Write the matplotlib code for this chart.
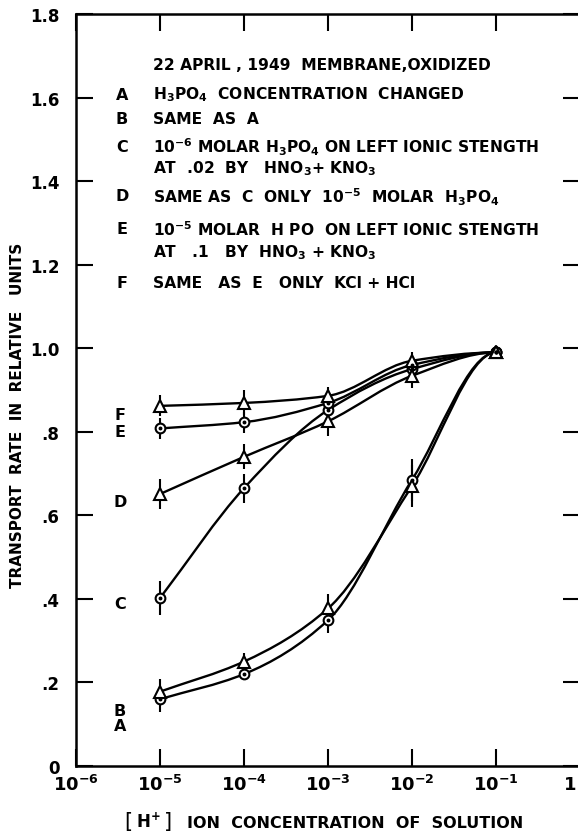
import numpy as np
import matplotlib
matplotlib.use('Agg')
import matplotlib.pyplot as plt
from matplotlib.path import Path
from matplotlib.patches import PathPatch

plt.rcParams['font.family'] = ['DejaVu Sans']
plt.rcParams['font.weight'] = 'bold'
plt.rcParams['mathtext.fontset'] = 'dejavusans'
plt.rcParams['mathtext.default'] = 'bf'

# H+ concentrations where rates were measured
conc = [1e-5, 1e-4, 1e-3, 1e-2, 1e-1]

# transport rate (relative units)
rate_A = [0.160, 0.220, 0.349, 0.685, 0.990]
rate_B = [0.178, 0.250, 0.377, 0.670, 0.990]
rate_C = [0.402, 0.665, 0.852, 0.950, 0.990]
rate_D = [0.651, 0.740, 0.825, 0.934, 0.990]
rate_E = [0.808, 0.823, 0.869, 0.960, 0.990]
rate_F = [0.862, 0.869, 0.886, 0.970, 0.990]

# half-length of the vertical bars
err_A = [0.030, 0.015, 0.030, 0.050, 0.010]
err_B = [0.030, 0.020, 0.035, 0.050, 0.010]
err_C = [0.040, 0.035, 0.020, 0.020, 0.010]
err_D = [0.035, 0.030, 0.035, 0.030, 0.010]
err_E = [0.025, 0.025, 0.020, 0.020, 0.010]
err_F = [0.025, 0.030, 0.020, 0.020, 0.010]

curve_names = ['A', 'B', 'C', 'D', 'E', 'F']
curve_markers = ['o', '^', 'o', '^', 'o', '^']

xtick_vals = [1e-6, 1e-5, 1e-4, 1e-3, 1e-2, 1e-1, 1]
xtick_labels = ['$10^{-6}$', '$10^{-5}$', '$10^{-4}$', '$10^{-3}$',
                '$10^{-2}$', '$10^{-1}$', '']
ytick_vals = [0, 0.2, 0.4, 0.6, 0.8, 1.0, 1.2, 1.4, 1.6, 1.8]
ytick_labels = ['0', '.2', '.4', '.6', '.8', '1.0', '1.2', '1.4', '1.6', '1.8']

legend_lines = [
    ('', '22 APRIL , 1949  MEMBRANE,OXIDIZED'),
    ('A', 'H$_3$PO$_4$  CONCENTRATION  CHANGED'),
    ('B', 'SAME  AS  A'),
    ('C', '10$^{-6}$ MOLAR H$_3$PO$_4$ ON LEFT IONIC STENGTH'),
    ('', 'AT  .02  BY   HNO$_3$+ KNO$_3$'),
    ('D', 'SAME AS  C  ONLY  10$^{-5}$  MOLAR  H$_3$PO$_4$'),
    ('E', '10$^{-5}$ MOLAR  H PO  ON LEFT IONIC STENGTH'),
    ('', 'AT   .1   BY  HNO$_3$ + KNO$_3$'),
    ('F', 'SAME   AS  E   ONLY  KCl + HCl'),
]


def smooth_curve(ax, xs, ys):
    # hermite curve through the points (in log x), drawn as bezier segments
    lx = np.log10(xs)
    y = np.asarray(ys, dtype=float)
    h = np.diff(lx)
    d = np.diff(y) / h
    m = np.zeros_like(y)
    for i in range(1, len(y) - 1):
        if d[i - 1] * d[i] > 0:
            m[i] = 2.0 / (1.0 / d[i - 1] + 1.0 / d[i])
    m[0] = d[0]
    m[-1] = 0.0
    verts = [(xs[0], y[0])]
    codes = [Path.MOVETO]
    for i in range(len(y) - 1):
        c1 = (10 ** (lx[i] + h[i] / 3), y[i] + m[i] * h[i] / 3)
        c2 = (10 ** (lx[i + 1] - h[i] / 3), y[i + 1] - m[i + 1] * h[i] / 3)
        verts += [c1, c2, (xs[i + 1], y[i + 1])]
        codes += [Path.CURVE4] * 3
    ax.add_patch(PathPatch(Path(verts, codes), fill=False, lw=1.7,
                           edgecolor='black', zorder=2))


fig = plt.figure(figsize=(5.78, 8.37), dpi=100)
ax = fig.add_axes([76 / 578, 70 / 837, 504 / 578, 752 / 837])
ax.set_xscale('log')
ax.set_xlim(1e-6, 1)
ax.set_ylim(0, 1.8)

rates = [rate_A, rate_B, rate_C, rate_D, rate_E, rate_F]
errs = [err_A, err_B, err_C, err_D, err_E, err_F]
for name, mk, r, e in zip(curve_names, curve_markers, rates, errs):
    smooth_curve(ax, conc, r)
    ax.errorbar(conc, r, yerr=e, fmt='none', ecolor='black', elinewidth=1.5,
                capsize=0, zorder=3)
    ax.plot(conc, r, linestyle='none', marker=mk, ms=7 if mk == 'o' else 8,
            mfc='white', mec='black', mew=1.5, zorder=4)
    if mk == 'o':
        ax.plot(conc, r, linestyle='none', marker='o', ms=1.8,
                color='black', zorder=5)

# curve letters at the left
label_pos = {'F': 0.842, 'E': 0.800, 'D': 0.634, 'C': 0.388, 'B': 0.134, 'A': 0.096}
for name in curve_names:
    ax.text(3.35e-6, label_pos[name], name, fontsize=11.5, ha='center',
            va='center', fontweight='bold')

# description block
line_y = [65, 95, 120, 147, 169, 197, 230, 253, 283]
for (key, txt), py in zip(legend_lines, line_y):
    if key:
        fig.text(122 / 578, 1 - py / 837, key, fontsize=11.5, ha='center',
                 va='center', fontweight='bold')
    fig.text(153 / 578, 1 - py / 837, txt, fontsize=11.2, ha='left',
             va='center', fontweight='bold')

ax.set_xticks(xtick_vals)
ax.set_xticklabels(xtick_labels, fontsize=13, fontweight='bold')
ax.xaxis.set_minor_locator(matplotlib.ticker.NullLocator())
ax.set_yticks(ytick_vals)
ax.set_yticklabels(ytick_labels, fontsize=12, fontweight='bold')
ax.tick_params(axis='both', which='major', direction='in', length=12,
               width=1.5, top=True, right=True)
ax.tick_params(axis='y', pad=12)
ax.tick_params(axis='x', pad=6)
for s in ax.spines.values():
    s.set_linewidth(1.8)

# tick label of 10^0 sits at the right edge of the page
fig.text(576 / 578, 1 - 785 / 837, '1', ha='right', va='center',
         fontsize=13, fontweight='bold')

fig.text(18 / 578, 1 - 415 / 837, 'TRANSPORT  RATE  IN  RELATIVE   UNITS',
         rotation=90, ha='center', va='center', fontsize=11, fontweight='bold')
fig.text(128 / 578, 1 - 822 / 837, '[', ha='center', va='center',
         fontsize=15, fontweight='normal')
fig.text(148 / 578, 1 - 822 / 837, 'H$^{+}$', ha='center', va='center',
         fontsize=12, fontweight='bold')
fig.text(168 / 578, 1 - 822 / 837, ']', ha='center', va='center',
         fontsize=15, fontweight='normal')
fig.text(187 / 578, 1 - 824 / 837, 'ION  CONCENTRATION  OF  SOLUTION',
         ha='left', va='center', fontsize=11.5, fontweight='bold')

fig.savefig('out.png', dpi=100)
